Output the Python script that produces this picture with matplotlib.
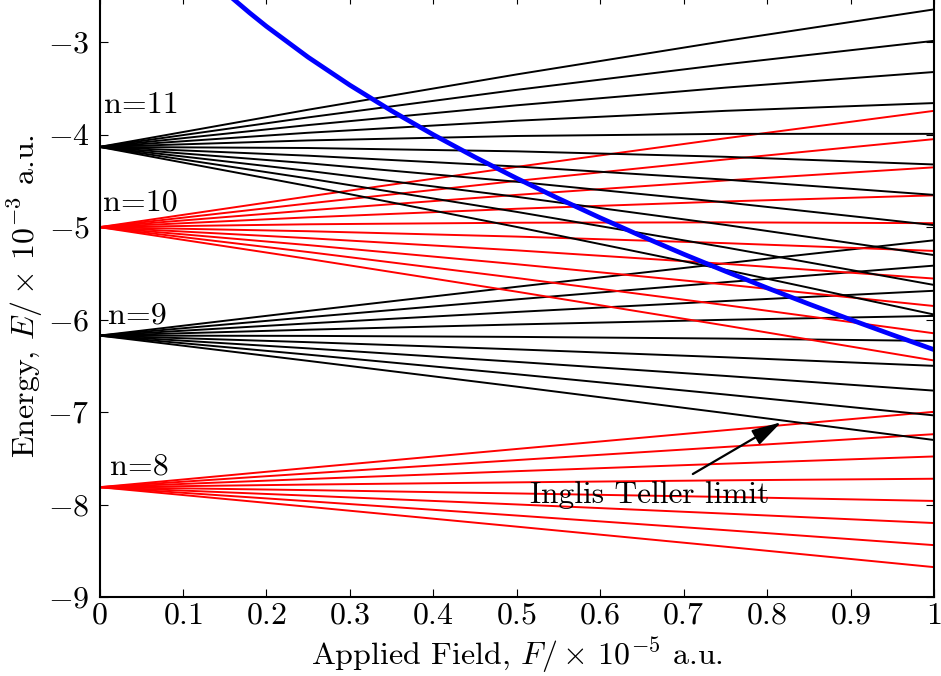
import matplotlib
matplotlib.use("Agg")
import matplotlib.pyplot as plt

plt.rcParams['font.family'] = 'cmr10'
plt.rcParams['mathtext.fontset'] = 'cm'
plt.rcParams['axes.unicode_minus'] = False
plt.rcParams['axes.formatter.use_mathtext'] = True

# Field samples (units of 1e-5 a.u.) at which the Stark levels were read
field_samples = [0.0, 0.25, 0.5, 0.75, 1.0]

# Energies (units of 1e-3 a.u.) of each Stark component at the field samples
n8_levels = [
    [-7.8125, -7.604, -7.399, -7.196, -6.997],
    [-7.8125, -7.664, -7.519, -7.377, -7.239],
    [-7.8125, -7.724, -7.639, -7.558, -7.480],
    [-7.8125, -7.784, -7.760, -7.738, -7.721],
    [-7.8125, -7.844, -7.880, -7.918, -7.961],
    [-7.8125, -7.904, -7.999, -8.098, -8.200],
    [-7.8125, -7.964, -8.119, -8.277, -8.439],
    [-7.8125, -8.024, -8.239, -8.456, -8.677],
]
n9_levels = [
    [-6.1728, -5.906, -5.645, -5.391, -5.142],
    [-6.1728, -5.974, -5.781, -5.595, -5.416],
    [-6.1728, -6.041, -5.917, -5.799, -5.688],
    [-6.1728, -6.109, -6.052, -6.002, -5.960],
    [-6.1728, -6.176, -6.187, -6.205, -6.230],
    [-6.1728, -6.244, -6.322, -6.407, -6.500],
    [-6.1728, -6.311, -6.457, -6.609, -6.768],
    [-6.1728, -6.379, -6.591, -6.810, -7.036],
    [-6.1728, -6.446, -6.725, -7.011, -7.302],
]
n10_levels = [
    [-5.0, -4.668, -4.348, -4.039, -3.742],
    [-5.0, -4.744, -4.500, -4.268, -4.048],
    [-5.0, -4.819, -4.651, -4.495, -4.353],
    [-5.0, -4.894, -4.801, -4.722, -4.656],
    [-5.0, -4.969, -4.952, -4.948, -4.957],
    [-5.0, -5.044, -5.102, -5.173, -5.257],
    [-5.0, -5.119, -5.251, -5.397, -5.556],
    [-5.0, -5.194, -5.401, -5.620, -5.853],
    [-5.0, -5.269, -5.550, -5.843, -6.148],
    [-5.0, -5.343, -5.698, -6.064, -6.442],
]
n11_levels = [
    [-4.1322, -3.730, -3.348, -2.986, -2.645],
    [-4.1322, -3.813, -3.515, -3.239, -2.985],
    [-4.1322, -3.896, -3.682, -3.491, -3.322],
    [-4.1322, -3.979, -3.849, -3.742, -3.658],
    [-4.1322, -4.062, -4.014, -3.991, -3.991],
    [-4.1322, -4.144, -4.180, -4.239, -4.322],
    [-4.1322, -4.227, -4.344, -4.486, -4.651],
    [-4.1322, -4.309, -4.509, -4.732, -4.978],
    [-4.1322, -4.391, -4.672, -4.976, -5.302],
    [-4.1322, -4.473, -4.835, -5.219, -5.625],
    [-4.1322, -4.555, -4.998, -5.461, -5.945],
]
manifold_colors = ['red', 'black', 'red', 'black']
manifold_labels = ['n=8', 'n=9', 'n=10', 'n=11']
label_pos_F = [0.012, 0.010, 0.004, 0.005]
label_pos_E = [-7.68, -6.04, -4.82, -3.77]

# Inglis-Teller / classical ionisation limit curve
limit_F = [0.15, 0.16, 0.18, 0.20, 0.25, 0.30, 0.35, 0.40, 0.45, 0.50, 0.55,
           0.60, 0.65, 0.70, 0.75, 0.80, 0.85, 0.90, 0.95, 1.00]
limit_E = [-2.449, -2.530, -2.683, -2.828, -3.162, -3.464, -3.742, -4.000,
           -4.243, -4.472, -4.690, -4.899, -5.099, -5.292, -5.477, -5.657,
           -5.831, -6.000, -6.164, -6.325]

annot_text = 'Inglis Teller limit'
annot_tip = (0.817, -7.11)
annot_tail = (0.711, -7.67)
annot_text_pos = (0.516, -7.90)

x_ticks = [0, 0.1, 0.2, 0.3, 0.4, 0.5, 0.6, 0.7, 0.8, 0.9, 1.0]
x_tick_labels = ['$0$', '$0.1$', '$0.2$', '$0.3$', '$0.4$', '$0.5$', '$0.6$',
                 '$0.7$', '$0.8$', '$0.9$', '$1$']
y_ticks = [-9, -8, -7, -6, -5, -4, -3]
y_tick_labels = ['$-9$', '$-8$', '$-7$', '$-6$', '$-5$', '$-4$', '$-3$']

FS = 23

fig = plt.figure(figsize=(9.41, 6.76), dpi=100)
ax = fig.add_axes([99.5 / 941, 79 / 676, (934 - 99.5) / 941, (597 + 4) / 676])

for levels, col in zip([n8_levels, n9_levels, n10_levels, n11_levels], manifold_colors):
    for lev in levels:
        ax.plot(field_samples, lev, color=col, lw=1.4, solid_capstyle='butt')

ax.plot(limit_F, limit_E, color='blue', lw=3.4)

for lab, fx, ey in zip(manifold_labels, label_pos_F, label_pos_E):
    ax.text(fx, ey, lab, fontsize=FS, ha='left', va='baseline')

ax.annotate('', xy=annot_tip, xytext=annot_tail,
            arrowprops=dict(arrowstyle='-|>,head_length=1.8,head_width=0.5',
                            color='black', lw=1.6, shrinkA=0, shrinkB=0))
ax.text(annot_text_pos[0], annot_text_pos[1], annot_text, fontsize=22.5,
        ha='left', va='center')

ax.set_xlim(0, 1)
ax.set_ylim(-9, -2.5)
ax.set_xticks(x_ticks)
ax.set_xticklabels(x_tick_labels)
ax.set_yticks(y_ticks)
ax.set_yticklabels(y_tick_labels)
ax.tick_params(direction='in', top=True, right=True, length=6, width=0.8,
               labelsize=FS)
ax.tick_params(axis='x', pad=4)
ax.tick_params(axis='y', pad=7)
for sp in ax.spines.values():
    sp.set_linewidth(1.5)

ax.set_xlabel(r'Applied Field, $F/\times\,10^{-5}$ a.u.', fontsize=FS, labelpad=4)
ax.set_ylabel(r'Energy, $E/\times\,10^{-3}$ a.u.', fontsize=FS, labelpad=2)

fig.savefig('out.png', dpi=100)
